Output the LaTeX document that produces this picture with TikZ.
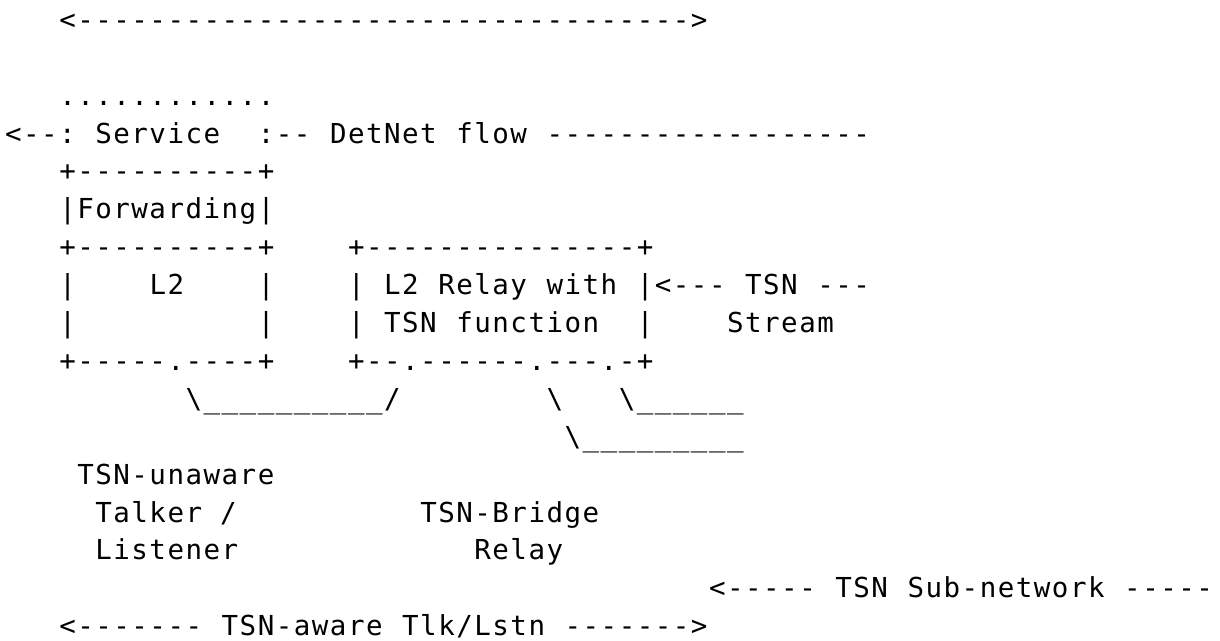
\documentclass[tikz,border=0pt]{standalone}
\usepackage{fontspec}
\setmonofont[LetterSpace=5.43]{DejaVu Sans Mono}
\begin{document}
\begin{tikzpicture}[
  asc/.style={anchor=base west, inner sep=0pt, outer sep=0pt,
    font=\ttfamily\fontsize{27.5}{30}\selectfont, text=black}]
\useasboundingbox (0pt,0pt) rectangle (1220pt,-640pt);
\begin{scope}[x=18.05pt, y=-37.9pt, shift={(5.1pt,-29.3pt)}]
% row 0
\node[asc] (topArrow) at (3,0) {<---------------------------------->};
% row 2-3: service
\node[asc] (dots) at (3,2) {............};
\node[asc] (svcL) at (0,3) {<--:};
\node[asc] (svc) at (5,3) {Service};
\node[asc] (svcR) at (14,3) {:--};
\node[asc] (detnet) at (18,3) {DetNet};
\node[asc] (flow) at (25,3) {flow};
\node[asc] (flowLine) at (30,3) {------------------};
% forwarding box
\node[asc] (fwdTop) at (3,4) {+----------+};
\node[asc] (fwd) at (3,5) {|Forwarding|};
\node[asc] (fwdMid) at (3,6) {+----------+};
\node[asc] (l2L) at (3,7) {|};
\node[asc] (l2) at (8,7) {L2};
\node[asc] (l2R) at (14,7) {|};
\node[asc] (l2L2) at (3,8) {|};
\node[asc] (l2R2) at (14,8) {|};
\node[asc] (l2Bot) at (3,9) {+-----.----+};
% relay box
\node[asc] (relTop) at (19,6) {+---------------+};
\node[asc] (relL1) at (19,7) {|};
\node[asc] (relT1a) at (21,7) {L2};
\node[asc] (relT1b) at (24,7) {Relay};
\node[asc] (relT1c) at (30,7) {with};
\node[asc] (relR1) at (35,7) {|<---};
\node[asc] (tsnS) at (41,7) {TSN};
\node[asc] (tsnD) at (45,7) {---};
\node[asc] (relL2) at (19,8) {|};
\node[asc] (relT2a) at (21,8) {TSN};
\node[asc] (relT2b) at (25,8) {function};
\node[asc] (relR2) at (35,8) {|};
\node[asc] (stream) at (40,8) {Stream};
\node[asc] (relBot) at (19,9) {+--.------.---.-+};
% links
\node[asc] (linkA) at (10,10) {\textbackslash\_\_\_\_\_\_\_\_\_\_/};
\node[asc] (linkB) at (30,10) {\textbackslash};
\node[asc] (linkC) at (34,10) {\textbackslash\_\_\_\_\_\_};
\node[asc] (linkD) at (31,11) {\textbackslash\_\_\_\_\_\_\_\_\_};
% labels
\node[asc] (unaware) at (4,12) {TSN-unaware};
\node[asc] (talker) at (5,13) {Talker /};
\node[asc] (bridge) at (23,13) {TSN-Bridge};
\node[asc] (listener) at (5,14) {Listener};
\node[asc] (relay) at (26,14) {Relay};
\node[asc] (subL) at (39,15) {<-----};
\node[asc] (subT) at (46,15) {TSN};
\node[asc] (subN) at (50,15) {Sub-network};
\node[asc] (subR) at (62,15) {-----};
\node[asc] (awL) at (3,16) {<-------};
\node[asc] (awT) at (12,16) {TSN-aware};
\node[asc] (awT2) at (22,16) {Tlk/Lstn};
\node[asc] (awR) at (31,16) {------->};
\end{scope}
\end{tikzpicture}
\end{document}
